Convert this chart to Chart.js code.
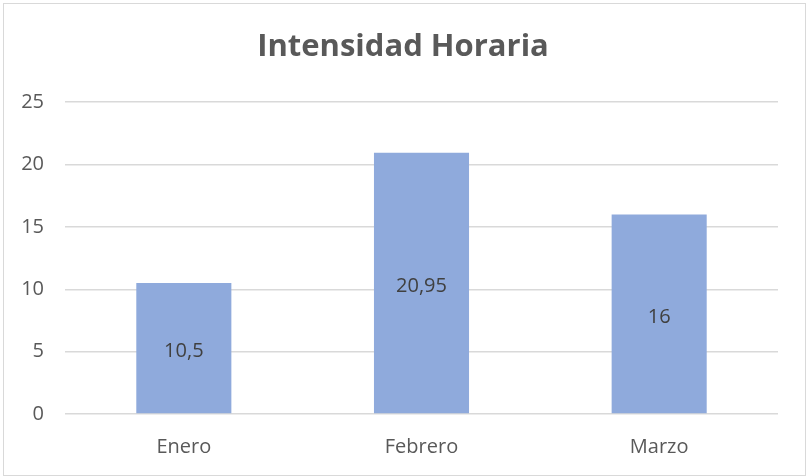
<!DOCTYPE html>
<html>
<head>
<meta charset="utf-8">
<script src="https://cdn.jsdelivr.net/npm/chart.js@4/dist/chart.umd.min.js"></script>
<style>
  html, body { margin: 0; padding: 0; background: #fff; }
  #wrap { width: 806px; height: 476px; }
</style>
</head>
<body>
<div id="wrap"><canvas id="barChart" width="806" height="476"></canvas></div>
<script>
var meses = ["Enero", "Febrero", "Marzo"];
var horas = [10.5, 20.95, 16];
var etiquetas = ["10,5", "20,95", "16"];
var yTicks = [0, 5, 10, 15, 20, 25];

var fontName = "'Open Sans', sans-serif";

// marco gris alrededor del grafico, titulo centrado en todo el ancho
var marco = {
    id: 'marco',
    afterLayout: function (chart) {
        var t = chart.titleBlock;
        if (t) {
            t.left = 0;
            t.right = chart.width;
            t.width = chart.width;
        }
    },
    beforeDraw: function (chart) {
        var c = chart.ctx;
        c.save();
        c.fillStyle = '#fff';
        c.fillRect(0, 0, chart.width, chart.height);
        c.strokeStyle = '#d9d9d9';
        c.lineWidth = 1;
        c.strokeRect(3.5, 3.5, chart.width - 4, chart.height - 4);
        c.restore();
    }
};

// valores dentro de cada barra
var valores = {
    id: 'valores',
    afterDatasetsDraw: function (chart) {
        var c = chart.ctx;
        var meta = chart.getDatasetMeta(0);
        c.save();
        c.fillStyle = '#404040';
        c.font = "20px " + fontName;
        c.textAlign = 'center';
        c.textBaseline = 'middle';
        meta.data.forEach(function (bar, i) {
            c.fillText(etiquetas[i], bar.x, (bar.y + bar.base) / 2 + 3);
        });
        c.restore();
    }
};

var ctx = document.getElementById("barChart").getContext("2d");
new Chart(ctx, {
    type: 'bar',
    data: {
        labels: meses,
        datasets: [{
            label: "Intensidad Horaria",
            data: horas,
            backgroundColor: "#8faadc",
            barPercentage: 0.4,
            categoryPercentage: 1
        }]
    },
    options: {
        responsive: false,
        animation: false,
        layout: { padding: { left: 0, right: 28, top: 0, bottom: 0 } },
        plugins: {
            legend: { display: false },
            tooltip: { enabled: false },
            title: {
                display: true,
                text: "Intensidad Horaria",
                color: '#595959',
                font: { family: fontName, size: 31, weight: 'bold' },
                padding: { top: 29, bottom: 36 }
            }
        },
        scales: {
            x: {
                grid: { display: false },
                border: { display: false },
                ticks: { color: '#595959', font: { family: fontName, size: 20 }, padding: 13 },
                afterFit: function (s) { s.height = 62; }
            },
            y: {
                min: 0,
                max: 25,
                afterBuildTicks: function (s) { s.ticks = yTicks.map(function (v) { return { value: v }; }); },
                grid: { color: '#d9d9d9', drawTicks: false, lineWidth: 1.5 },
                border: { display: false },
                ticks: { color: '#595959', font: { family: fontName, size: 20 }, padding: 21 },
                afterFit: function (s) { s.width = 65; }
            }
        }
    },
    plugins: [marco, valores]
});
</script>
</body>
</html>
